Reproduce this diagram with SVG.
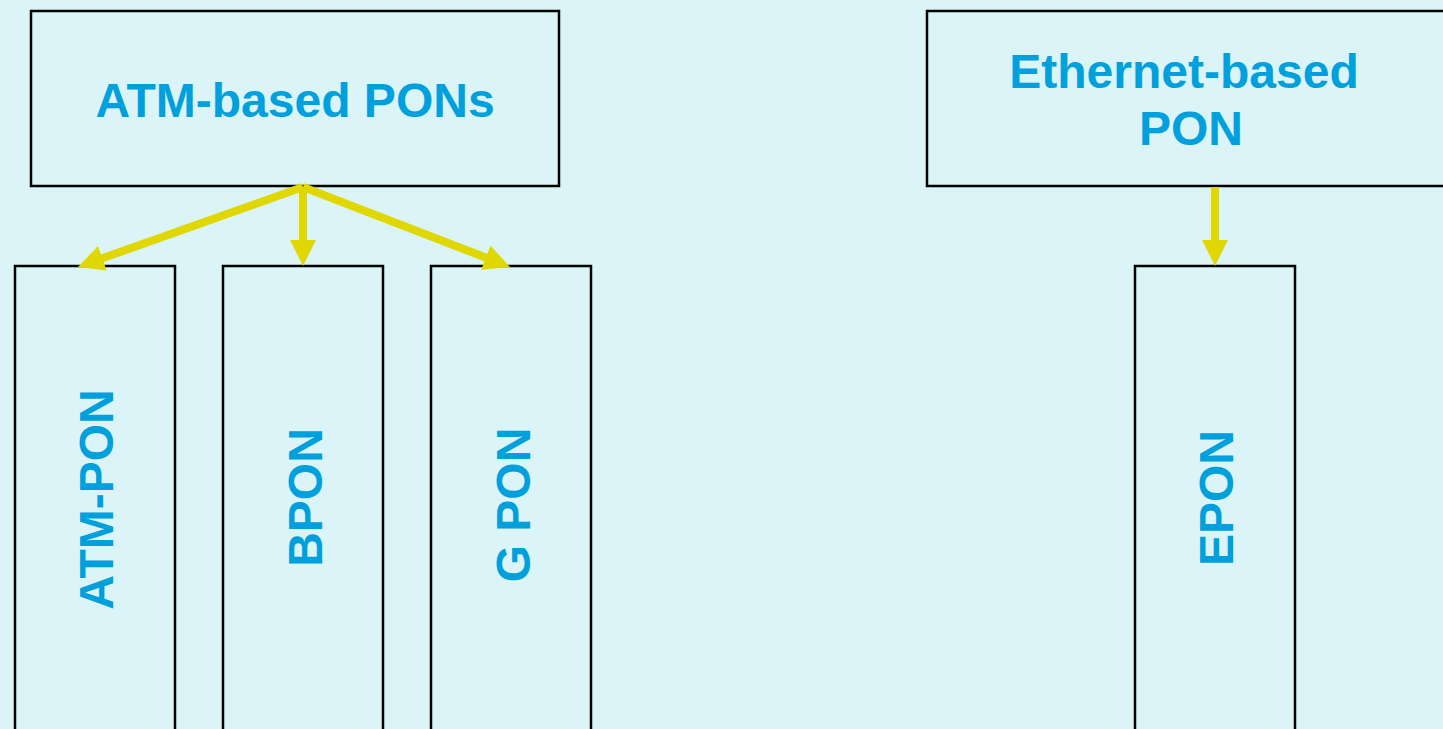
<svg xmlns="http://www.w3.org/2000/svg" width="1443" height="729" viewBox="0 0 1443 729">
  <style>
    .box { fill: #DAF4F7; stroke: #000000; stroke-width: 2.5; }
    .lbl { font-family: "Liberation Sans", Arial, sans-serif; font-weight: bold; font-size: 48px; fill: #00A0DC; text-anchor: middle; }
    .conn { stroke: #E0D700; stroke-width: 8; fill: none; marker-end: url(#arrow); }
  </style>
  <defs>
    <marker id="arrow" markerUnits="userSpaceOnUse" markerWidth="26" markerHeight="26" refX="4" refY="13" orient="auto">
      <path d="M0,0 L26,13 L0,26 z" fill="#E0D700"/>
    </marker>
  </defs>
  <rect x="0" y="0" width="1443" height="729" fill="#DAF4F7"/>

  <g id="atm-based">
    <rect class="box" x="31" y="11" width="528" height="175"/>
    <text class="lbl" x="295" y="117">ATM-based PONs</text>
  </g>
  <g id="ethernet-based">
    <rect class="box" x="927" y="11" width="540" height="175"/>
    <text class="lbl" x="1184" y="88">Ethernet-based</text>
    <text class="lbl" x="1191" y="145">PON</text>
  </g>
  <g id="atm-pon">
    <rect class="box" x="15" y="266" width="160" height="500"/>
    <text class="lbl" transform="translate(96,499.5) rotate(-90)" x="0" y="17">ATM-PON</text>
  </g>
  <g id="bpon">
    <rect class="box" x="223" y="266" width="160" height="500"/>
    <text class="lbl" transform="translate(305,497.5) rotate(-90)" x="0" y="17">BPON</text>
  </g>
  <g id="gpon">
    <rect class="box" x="431" y="266" width="160" height="500"/>
    <text class="lbl" transform="translate(513,505) rotate(-90)" x="0" y="17">G PON</text>
  </g>
  <g id="epon">
    <rect class="box" x="1135" y="266" width="160" height="500"/>
    <text class="lbl" transform="translate(1216,498) rotate(-90)" x="0" y="17">EPON</text>
  </g>

  <g id="connectors">
    <line class="conn" x1="303" y1="187" x2="98.7" y2="259.6"/>
    <line class="conn" x1="303" y1="187" x2="303" y2="244"/>
    <line class="conn" x1="303" y1="187" x2="489.5" y2="259.1"/>
    <line class="conn" x1="1215" y1="187" x2="1215" y2="244"/>
  </g>
</svg>
